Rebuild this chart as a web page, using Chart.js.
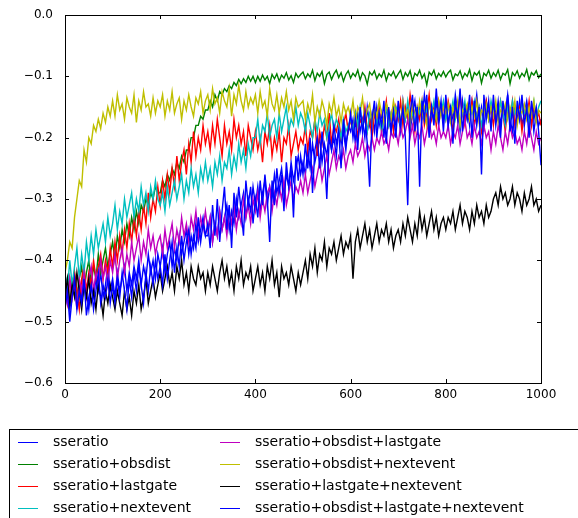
<!DOCTYPE html>
<html>
<head>
<meta charset="utf-8">
<script src="https://cdn.jsdelivr.net/npm/chart.js@4.4.1/dist/chart.umd.min.js"></script>
<style>
  html, body { margin: 0; padding: 0; background: #fff; }
  #wrap { width: 578px; height: 518px; }
</style>
</head>
<body>
<div id="wrap"><canvas id="c" width="578" height="518"></canvas></div>
<script>
// x positions: 0, 5, ..., 1000 (one sample every 5 steps)
const STEPS = Array.from({ length: 201 }, (_, i) => i * 5);

const LABELS = [
  'sseratio',
  'sseratio+obsdist',
  'sseratio+lastgate',
  'sseratio+nextevent',
  'sseratio+obsdist+lastgate',
  'sseratio+obsdist+nextevent',
  'sseratio+lastgate+nextevent',
  'sseratio+obsdist+lastgate+nextevent'
];

const COLORS = ['#0000ff', '#008000', '#ff0000', '#00bfbf', '#bf00bf', '#bfbf00', '#000000', '#0000ff'];

// one line per 100 steps (20 values), last line also holds x = 1000
const sseratio = [
  -0.47,-0.44,-0.48,-0.45,-0.43,-0.47,-0.44,-0.46,-0.42,-0.45,-0.48,-0.44,-0.46,-0.43,-0.45,-0.42,-0.46,-0.44,-0.41,-0.45,
  -0.43,-0.46,-0.42,-0.45,-0.43,-0.41,-0.45,-0.42,-0.44,-0.41,-0.43,-0.40,-0.44,-0.41,-0.43,-0.39,-0.42,-0.40,-0.43,-0.39,
  -0.41,-0.38,-0.42,-0.39,-0.37,-0.41,-0.38,-0.40,-0.36,-0.39,-0.37,-0.35,-0.39,-0.36,-0.38,-0.34,-0.37,-0.35,-0.33,-0.36,
  -0.36,-0.33,-0.37,-0.34,-0.36,-0.32,-0.35,-0.33,-0.31,-0.35,-0.32,-0.34,-0.30,-0.33,-0.31,-0.29,-0.33,-0.30,-0.32,-0.28,
  -0.31,-0.28,-0.32,-0.29,-0.27,-0.31,-0.28,-0.30,-0.26,-0.29,-0.27,-0.25,-0.29,-0.26,-0.28,-0.24,-0.27,-0.25,-0.23,-0.26,
  -0.24,-0.26,-0.22,-0.25,-0.21,-0.24,-0.22,-0.20,-0.24,-0.21,-0.23,-0.19,-0.22,-0.20,-0.23,-0.18,-0.21,-0.19,-0.22,-0.18,
  -0.19,-0.17,-0.21,-0.16,-0.19,-0.17,-0.20,-0.15,-0.18,-0.16,-0.19,-0.15,-0.18,-0.16,-0.20,-0.15,-0.17,-0.19,-0.15,-0.18,
  -0.16,-0.19,-0.14,-0.17,-0.15,-0.19,-0.16,-0.14,-0.18,-0.15,-0.17,-0.13,-0.16,-0.19,-0.15,-0.17,-0.14,-0.18,-0.15,-0.17,
  -0.14,-0.18,-0.15,-0.17,-0.13,-0.16,-0.19,-0.14,-0.17,-0.15,-0.18,-0.14,-0.16,-0.13,-0.17,-0.15,-0.19,-0.14,-0.16,-0.18,
  -0.15,-0.17,-0.14,-0.18,-0.15,-0.16,-0.13,-0.17,-0.19,-0.15,-0.17,-0.14,-0.18,-0.16,-0.14,-0.17,-0.15,-0.19,-0.16,-0.18,-0.17
];
const obsdist = [
  -0.45,-0.43,-0.47,-0.44,-0.42,-0.46,-0.43,-0.41,-0.45,-0.42,-0.40,-0.44,-0.41,-0.43,-0.39,-0.42,-0.40,-0.38,-0.41,-0.39,
  -0.37,-0.40,-0.36,-0.38,-0.35,-0.37,-0.34,-0.36,-0.33,-0.35,-0.32,-0.34,-0.31,-0.32,-0.30,-0.31,-0.29,-0.30,-0.28,-0.29,
  -0.29,-0.27,-0.28,-0.26,-0.27,-0.25,-0.26,-0.24,-0.25,-0.23,-0.24,-0.22,-0.22,-0.20,-0.20,-0.18,-0.18,-0.165,-0.17,-0.155,
  -0.155,-0.14,-0.15,-0.13,-0.14,-0.125,-0.13,-0.12,-0.125,-0.115,-0.12,-0.11,-0.115,-0.105,-0.112,-0.104,-0.11,-0.10,-0.108,-0.10,
  -0.11,-0.10,-0.108,-0.098,-0.106,-0.10,-0.112,-0.097,-0.104,-0.096,-0.108,-0.098,-0.103,-0.094,-0.106,-0.099,-0.11,-0.095,-0.102,-0.097,
  -0.093,-0.104,-0.096,-0.101,-0.09,-0.107,-0.095,-0.10,-0.092,-0.112,-0.097,-0.093,-0.105,-0.096,-0.09,-0.102,-0.094,-0.108,-0.097,-0.091,
  -0.103,-0.095,-0.10,-0.09,-0.106,-0.094,-0.099,-0.113,-0.093,-0.098,-0.091,-0.104,-0.096,-0.101,-0.09,-0.107,-0.095,-0.099,-0.092,-0.103,
  -0.096,-0.09,-0.105,-0.094,-0.10,-0.091,-0.108,-0.095,-0.099,-0.09,-0.103,-0.096,-0.114,-0.093,-0.098,-0.09,-0.104,-0.095,-0.10,-0.092,
  -0.101,-0.094,-0.09,-0.106,-0.096,-0.099,-0.091,-0.104,-0.095,-0.10,-0.089,-0.107,-0.094,-0.098,-0.092,-0.111,-0.095,-0.099,-0.09,-0.103,
  -0.094,-0.10,-0.09,-0.105,-0.095,-0.098,-0.089,-0.112,-0.094,-0.099,-0.091,-0.103,-0.095,-0.10,-0.089,-0.106,-0.094,-0.098,-0.091,-0.102,-0.096
];
const lastgate = [
  -0.44,-0.47,-0.43,-0.46,-0.42,-0.45,-0.48,-0.43,-0.41,-0.45,-0.42,-0.44,-0.40,-0.43,-0.41,-0.39,-0.43,-0.40,-0.42,-0.38,
  -0.41,-0.37,-0.40,-0.36,-0.39,-0.35,-0.38,-0.34,-0.37,-0.33,-0.36,-0.32,-0.35,-0.31,-0.34,-0.29,-0.33,-0.30,-0.32,-0.28,
  -0.31,-0.27,-0.30,-0.26,-0.29,-0.25,-0.28,-0.23,-0.27,-0.24,-0.22,-0.26,-0.21,-0.24,-0.19,-0.23,-0.20,-0.22,-0.18,-0.21,
  -0.19,-0.22,-0.18,-0.21,-0.17,-0.20,-0.23,-0.18,-0.21,-0.19,-0.22,-0.17,-0.20,-0.18,-0.21,-0.19,-0.23,-0.18,-0.20,-0.22,
  -0.19,-0.22,-0.20,-0.24,-0.19,-0.21,-0.18,-0.23,-0.20,-0.22,-0.19,-0.24,-0.20,-0.21,-0.18,-0.23,-0.21,-0.19,-0.22,-0.20,
  -0.21,-0.18,-0.22,-0.19,-0.20,-0.17,-0.23,-0.19,-0.21,-0.18,-0.20,-0.16,-0.21,-0.18,-0.19,-0.17,-0.20,-0.18,-0.16,-0.19,
  -0.17,-0.19,-0.16,-0.20,-0.17,-0.18,-0.15,-0.19,-0.17,-0.20,-0.16,-0.18,-0.15,-0.19,-0.17,-0.14,-0.18,-0.16,-0.19,-0.15,
  -0.17,-0.14,-0.18,-0.15,-0.17,-0.13,-0.16,-0.19,-0.15,-0.17,-0.14,-0.18,-0.16,-0.13,-0.17,-0.15,-0.18,-0.14,-0.16,-0.15,
  -0.17,-0.14,-0.16,-0.19,-0.15,-0.17,-0.13,-0.16,-0.18,-0.15,-0.17,-0.14,-0.18,-0.16,-0.15,-0.19,-0.16,-0.14,-0.17,-0.15,
  -0.18,-0.15,-0.17,-0.14,-0.16,-0.19,-0.15,-0.17,-0.14,-0.18,-0.16,-0.15,-0.19,-0.16,-0.17,-0.14,-0.18,-0.15,-0.17,-0.16,-0.18
];
const nextevent = [
  -0.42,-0.45,-0.40,-0.44,-0.41,-0.38,-0.43,-0.39,-0.42,-0.37,-0.40,-0.36,-0.39,-0.35,-0.38,-0.36,-0.34,-0.37,-0.33,-0.36,
  -0.34,-0.31,-0.35,-0.32,-0.34,-0.30,-0.33,-0.31,-0.29,-0.33,-0.30,-0.32,-0.28,-0.31,-0.29,-0.32,-0.28,-0.30,-0.27,-0.30,
  -0.31,-0.29,-0.32,-0.28,-0.31,-0.29,-0.27,-0.30,-0.28,-0.26,-0.30,-0.27,-0.29,-0.25,-0.28,-0.26,-0.29,-0.25,-0.27,-0.24,
  -0.27,-0.25,-0.28,-0.24,-0.26,-0.23,-0.27,-0.24,-0.25,-0.22,-0.26,-0.23,-0.25,-0.21,-0.24,-0.22,-0.25,-0.21,-0.23,-0.20,
  -0.20,-0.17,-0.21,-0.18,-0.19,-0.16,-0.20,-0.18,-0.17,-0.20,-0.16,-0.19,-0.17,-0.15,-0.19,-0.17,-0.18,-0.15,-0.18,-0.16,
  -0.17,-0.19,-0.16,-0.18,-0.20,-0.17,-0.19,-0.16,-0.18,-0.17,-0.20,-0.18,-0.16,-0.19,-0.17,-0.18,-0.20,-0.17,-0.19,-0.18,
  -0.17,-0.19,-0.16,-0.18,-0.15,-0.18,-0.17,-0.19,-0.16,-0.17,-0.15,-0.18,-0.16,-0.19,-0.17,-0.15,-0.18,-0.16,-0.17,-0.15,
  -0.16,-0.18,-0.15,-0.17,-0.14,-0.17,-0.16,-0.18,-0.15,-0.16,-0.14,-0.17,-0.15,-0.18,-0.16,-0.14,-0.17,-0.15,-0.16,-0.14,
  -0.17,-0.15,-0.16,-0.14,-0.17,-0.15,-0.18,-0.16,-0.14,-0.17,-0.15,-0.16,-0.14,-0.17,-0.15,-0.18,-0.16,-0.15,-0.17,-0.14,
  -0.16,-0.15,-0.17,-0.14,-0.16,-0.18,-0.15,-0.17,-0.14,-0.16,-0.15,-0.17,-0.14,-0.16,-0.15,-0.18,-0.16,-0.14,-0.17,-0.15,-0.14
];
const obsdistLastgate = [
  -0.45,-0.47,-0.43,-0.46,-0.44,-0.48,-0.43,-0.45,-0.42,-0.46,-0.43,-0.41,-0.45,-0.42,-0.44,-0.40,-0.43,-0.41,-0.44,-0.40,
  -0.42,-0.39,-0.43,-0.40,-0.38,-0.42,-0.39,-0.41,-0.37,-0.40,-0.38,-0.36,-0.40,-0.37,-0.39,-0.35,-0.38,-0.36,-0.39,-0.37,
  -0.36,-0.39,-0.35,-0.38,-0.36,-0.34,-0.38,-0.35,-0.37,-0.33,-0.36,-0.34,-0.37,-0.33,-0.35,-0.32,-0.36,-0.33,-0.35,-0.32,
  -0.35,-0.33,-0.37,-0.34,-0.36,-0.32,-0.35,-0.33,-0.36,-0.32,-0.34,-0.31,-0.35,-0.32,-0.34,-0.30,-0.33,-0.31,-0.34,-0.30,
  -0.32,-0.29,-0.33,-0.30,-0.32,-0.29,-0.28,-0.32,-0.29,-0.31,-0.28,-0.30,-0.27,-0.31,-0.29,-0.27,-0.30,-0.28,-0.29,-0.27,
  -0.29,-0.26,-0.29,-0.27,-0.25,-0.28,-0.26,-0.24,-0.27,-0.25,-0.23,-0.26,-0.24,-0.22,-0.25,-0.23,-0.24,-0.22,-0.25,-0.23,
  -0.22,-0.24,-0.21,-0.23,-0.22,-0.20,-0.23,-0.21,-0.22,-0.20,-0.22,-0.20,-0.21,-0.19,-0.21,-0.20,-0.22,-0.19,-0.20,-0.19,
  -0.21,-0.18,-0.20,-0.19,-0.17,-0.20,-0.18,-0.21,-0.19,-0.20,-0.18,-0.21,-0.19,-0.17,-0.20,-0.19,-0.21,-0.18,-0.20,-0.19,
  -0.20,-0.18,-0.21,-0.19,-0.20,-0.18,-0.21,-0.19,-0.17,-0.20,-0.19,-0.21,-0.18,-0.20,-0.19,-0.21,-0.18,-0.20,-0.19,-0.22,
  -0.19,-0.21,-0.18,-0.20,-0.22,-0.19,-0.21,-0.18,-0.20,-0.19,-0.21,-0.20,-0.22,-0.19,-0.21,-0.18,-0.20,-0.22,-0.19,-0.21,-0.20
];
const obsdistNextevent = [
  -0.42,-0.40,-0.37,-0.38,-0.33,-0.30,-0.27,-0.28,-0.22,-0.24,-0.20,-0.21,-0.18,-0.19,-0.17,-0.185,-0.16,-0.175,-0.15,-0.165,
  -0.14,-0.165,-0.13,-0.155,-0.145,-0.17,-0.135,-0.15,-0.16,-0.13,-0.175,-0.14,-0.155,-0.125,-0.15,-0.145,-0.165,-0.135,-0.16,-0.14,
  -0.15,-0.13,-0.165,-0.14,-0.155,-0.125,-0.16,-0.145,-0.135,-0.17,-0.14,-0.155,-0.13,-0.15,-0.165,-0.135,-0.145,-0.125,-0.16,-0.14,
  -0.13,-0.155,-0.12,-0.145,-0.135,-0.16,-0.125,-0.14,-0.15,-0.12,-0.165,-0.13,-0.145,-0.115,-0.14,-0.155,-0.125,-0.15,-0.135,-0.145,
  -0.13,-0.16,-0.125,-0.15,-0.14,-0.165,-0.12,-0.145,-0.155,-0.13,-0.16,-0.135,-0.15,-0.125,-0.155,-0.14,-0.17,-0.135,-0.15,-0.145,
  -0.14,-0.17,-0.145,-0.16,-0.13,-0.175,-0.15,-0.165,-0.14,-0.155,-0.18,-0.145,-0.16,-0.135,-0.165,-0.15,-0.175,-0.145,-0.16,-0.15,
  -0.165,-0.14,-0.175,-0.15,-0.16,-0.135,-0.17,-0.155,-0.145,-0.18,-0.15,-0.165,-0.14,-0.16,-0.175,-0.145,-0.155,-0.17,-0.14,-0.16,
  -0.15,-0.175,-0.14,-0.165,-0.155,-0.18,-0.145,-0.16,-0.17,-0.14,-0.165,-0.15,-0.18,-0.145,-0.16,-0.155,-0.17,-0.14,-0.165,-0.15,
  -0.16,-0.145,-0.175,-0.15,-0.165,-0.14,-0.18,-0.155,-0.16,-0.145,-0.17,-0.15,-0.165,-0.14,-0.175,-0.155,-0.16,-0.145,-0.17,-0.15,
  -0.165,-0.14,-0.175,-0.155,-0.16,-0.145,-0.17,-0.15,-0.165,-0.14,-0.18,-0.155,-0.16,-0.145,-0.17,-0.15,-0.165,-0.14,-0.175,-0.155,-0.16
];
const lastgateNextevent = [
  -0.46,-0.43,-0.47,-0.44,-0.46,-0.42,-0.45,-0.48,-0.44,-0.46,-0.43,-0.47,-0.45,-0.48,-0.44,-0.46,-0.49,-0.45,-0.47,-0.44,
  -0.46,-0.48,-0.45,-0.47,-0.49,-0.45,-0.48,-0.46,-0.49,-0.45,-0.47,-0.44,-0.48,-0.46,-0.43,-0.47,-0.45,-0.43,-0.46,-0.44,
  -0.42,-0.45,-0.43,-0.41,-0.44,-0.42,-0.45,-0.41,-0.43,-0.40,-0.44,-0.42,-0.45,-0.41,-0.43,-0.44,-0.41,-0.43,-0.42,-0.45,
  -0.42,-0.44,-0.41,-0.43,-0.45,-0.42,-0.40,-0.43,-0.41,-0.44,-0.42,-0.45,-0.41,-0.43,-0.40,-0.44,-0.42,-0.43,-0.41,-0.45,
  -0.43,-0.41,-0.44,-0.42,-0.45,-0.41,-0.43,-0.40,-0.44,-0.42,-0.46,-0.41,-0.43,-0.42,-0.44,-0.41,-0.43,-0.45,-0.42,-0.44,
  -0.42,-0.40,-0.43,-0.39,-0.41,-0.38,-0.42,-0.39,-0.40,-0.37,-0.41,-0.38,-0.39,-0.37,-0.40,-0.38,-0.36,-0.39,-0.37,-0.38,
  -0.36,-0.43,-0.37,-0.35,-0.38,-0.36,-0.34,-0.37,-0.35,-0.38,-0.36,-0.34,-0.37,-0.35,-0.36,-0.34,-0.37,-0.35,-0.38,-0.36,
  -0.35,-0.37,-0.34,-0.36,-0.33,-0.35,-0.37,-0.34,-0.36,-0.32,-0.35,-0.33,-0.36,-0.34,-0.32,-0.35,-0.33,-0.36,-0.34,-0.33,
  -0.35,-0.33,-0.34,-0.32,-0.35,-0.33,-0.31,-0.34,-0.32,-0.33,-0.35,-0.32,-0.34,-0.31,-0.33,-0.32,-0.34,-0.31,-0.33,-0.32,
  -0.30,-0.29,-0.31,-0.28,-0.30,-0.29,-0.31,-0.30,-0.28,-0.31,-0.29,-0.30,-0.32,-0.29,-0.31,-0.30,-0.28,-0.31,-0.30,-0.32,-0.31
];
const allFeatures = [
  -0.48,-0.45,-0.50,-0.46,-0.43,-0.48,-0.45,-0.47,-0.43,-0.49,-0.46,-0.44,-0.48,-0.45,-0.42,-0.47,-0.44,-0.46,-0.43,-0.47,
  -0.44,-0.47,-0.43,-0.46,-0.42,-0.45,-0.48,-0.43,-0.46,-0.42,-0.45,-0.41,-0.44,-0.47,-0.42,-0.45,-0.41,-0.44,-0.40,-0.43,
  -0.41,-0.44,-0.39,-0.43,-0.40,-0.37,-0.42,-0.38,-0.41,-0.36,-0.40,-0.37,-0.35,-0.39,-0.36,-0.38,-0.33,-0.37,-0.34,-0.36,
  -0.34,-0.38,-0.31,-0.36,-0.30,-0.37,-0.32,-0.28,-0.35,-0.31,-0.38,-0.29,-0.33,-0.28,-0.32,-0.36,-0.27,-0.31,-0.28,-0.34,
  -0.30,-0.33,-0.27,-0.31,-0.26,-0.30,-0.37,-0.27,-0.31,-0.25,-0.29,-0.26,-0.32,-0.24,-0.28,-0.25,-0.33,-0.23,-0.27,-0.23,
  -0.26,-0.21,-0.25,-0.20,-0.29,-0.22,-0.20,-0.25,-0.19,-0.23,-0.30,-0.20,-0.22,-0.18,-0.21,-0.19,-0.25,-0.17,-0.21,-0.19,
  -0.16,-0.20,-0.17,-0.22,-0.15,-0.19,-0.16,-0.21,-0.28,-0.17,-0.14,-0.20,-0.16,-0.18,-0.14,-0.21,-0.15,-0.19,-0.16,-0.20,
  -0.14,-0.18,-0.15,-0.20,-0.31,-0.16,-0.13,-0.19,-0.15,-0.28,-0.14,-0.17,-0.13,-0.20,-0.15,-0.18,-0.12,-0.17,-0.14,-0.19,
  -0.13,-0.18,-0.15,-0.21,-0.14,-0.17,-0.12,-0.19,-0.15,-0.17,-0.13,-0.20,-0.14,-0.18,-0.15,-0.26,-0.13,-0.17,-0.14,-0.19,
  -0.13,-0.18,-0.15,-0.20,-0.14,-0.17,-0.13,-0.19,-0.15,-0.21,-0.14,-0.17,-0.13,-0.18,-0.15,-0.20,-0.14,-0.17,-0.15,-0.19,-0.245
];

const SERIES = [sseratio, obsdist, lastgate, nextevent, obsdistLastgate, obsdistNextevent, lastgateNextevent, allFeatures];

const X_TICKS = [0, 200, 400, 600, 800, 1000];
const Y_TICKS = [0, -0.1, -0.2, -0.3, -0.4, -0.5, -0.6];

const FONT = 'DejaVu Sans';

function fmtY(v) {
  if (Math.abs(v) < 1e-9) return '0.0';
  return '\u2212' + Math.abs(v).toFixed(1);
}

// frame + inward ticks, matplotlib style
const framePlugin = {
  id: 'frame',
  afterDatasetsDraw(chart) {
    const { ctx, chartArea: a, scales } = chart;
    ctx.save();
    ctx.strokeStyle = '#000';
    ctx.lineWidth = 1;
    ctx.strokeRect(Math.round(a.left) + 0.5, Math.round(a.top) + 0.5,
      Math.round(a.right - a.left), Math.round(a.bottom - a.top));
    ctx.beginPath();
    X_TICKS.forEach(t => {
      const x = Math.round(scales.x.getPixelForValue(t)) + 0.5;
      ctx.moveTo(x, a.bottom); ctx.lineTo(x, a.bottom - 4);
      ctx.moveTo(x, a.top); ctx.lineTo(x, a.top + 4);
    });
    Y_TICKS.forEach(t => {
      const y = Math.round(scales.y.getPixelForValue(t)) + 0.5;
      ctx.moveTo(a.left, y); ctx.lineTo(a.left + 4, y);
      ctx.moveTo(a.right, y); ctx.lineTo(a.right - 4, y);
    });
    ctx.stroke();
    ctx.restore();
  }
};

// legend box below the axes, two columns
const legendPlugin = {
  id: 'boxLegend',
  afterDraw(chart) {
    const ctx = chart.ctx;
    ctx.save();
    ctx.strokeStyle = '#000';
    ctx.lineWidth = 1;
    ctx.strokeRect(9.5, 429.5, 600, 120);
    ctx.font = '14px "' + FONT + '"';
    ctx.fillStyle = '#000';
    ctx.textBaseline = 'middle';
    chart.data.datasets.forEach((ds, i) => {
      const col = i < 4 ? 0 : 1;
      const row = i % 4;
      const y = 442 + row * 22;
      const lx = col === 0 ? 18 : 220;
      const tx = col === 0 ? 53 : 255;
      ctx.strokeStyle = ds.borderColor;
      ctx.lineWidth = 1;
      ctx.beginPath();
      ctx.moveTo(lx, y + 0.5); ctx.lineTo(lx + 20, y + 0.5);
      ctx.stroke();
      ctx.fillText(ds.label, tx, y);
    });
    ctx.restore();
  }
};

new Chart(document.getElementById('c'), {
  type: 'line',
  data: {
    datasets: SERIES.map((s, i) => ({
      label: LABELS[i],
      data: s.map((v, j) => ({ x: STEPS[j], y: v })),
      borderColor: COLORS[i],
      borderWidth: 1.4,
      pointRadius: 0,
      tension: 0,
      fill: false,
      order: SERIES.length - i
    }))
  },
  options: {
    responsive: false,
    animation: false,
    layout: { padding: { left: 0, top: 15, right: 37, bottom: 110 } },
    plugins: { legend: { display: false }, tooltip: { enabled: false } },
    scales: {
      x: {
        type: 'linear', min: 0, max: 1000,
        afterBuildTicks: s => { s.ticks = X_TICKS.map(v => ({ value: v })); },
        afterFit: s => { s.height = 25; },
        grid: { display: false },
        border: { display: false },
        ticks: { color: '#000', font: { family: FONT, size: 12 }, padding: -3, maxRotation: 0, callback: v => String(v) }
      },
      y: {
        min: -0.6, max: 0,
        afterBuildTicks: s => { s.ticks = Y_TICKS.map(v => ({ value: v })); },
        afterFit: s => { s.width = 65; },
        grid: { display: false },
        border: { display: false },
        ticks: { color: '#000', font: { family: FONT, size: 12 }, padding: 4, callback: v => fmtY(v) }
      }
    }
  },
  plugins: [framePlugin, legendPlugin]
});
</script>
</body>
</html>
